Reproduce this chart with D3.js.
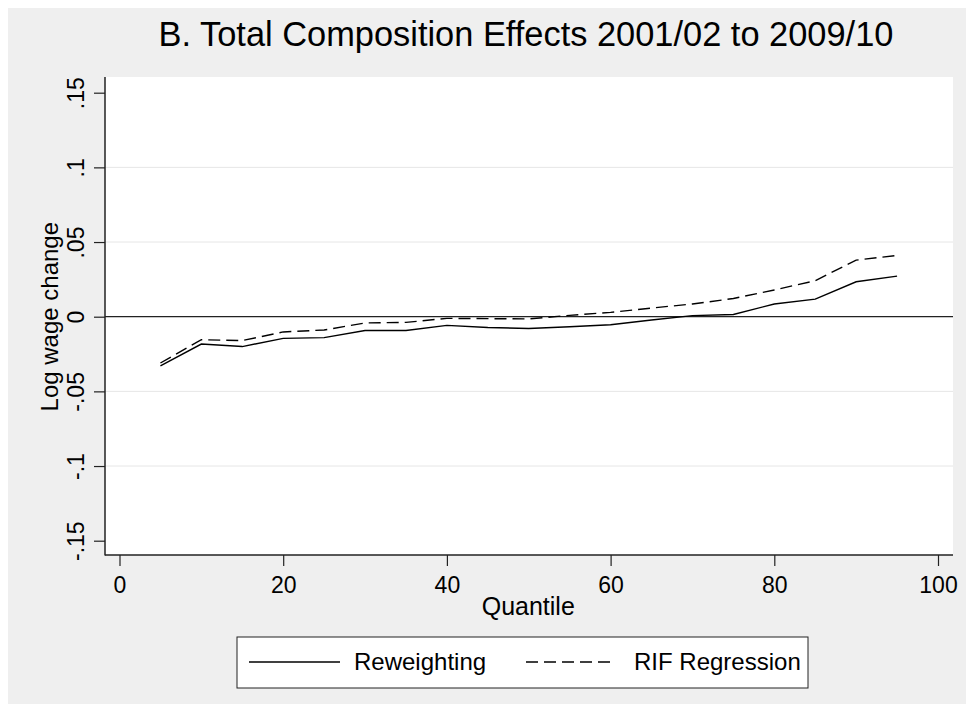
<!DOCTYPE html>
<html>
<head>
<meta charset="utf-8">
<script src="https://cdn.jsdelivr.net/npm/d3@7"></script>
<style>
  body { margin: 0; background: #fff; }
  text { font-family: "Liberation Sans", Arial, sans-serif; fill: #000; }
</style>
</head>
<body>
<div id="chart"></div>
<script>
const w = 968, h = 706

// data
const quantiles = [5, 10, 15, 20, 25, 30, 35, 40, 45, 50, 55, 60, 65, 70, 75, 80, 85, 90, 95]
const reweighting = [-0.033, -0.0183, -0.020, -0.0145, -0.014, -0.0092, -0.0092, -0.0058, -0.0072, -0.0079,
    -0.0067, -0.0054, -0.0022, 0.0007, 0.0015, 0.0085, 0.0118, 0.0234, 0.0272]
const rifRegression = [-0.031, -0.0154, -0.016, -0.0102, -0.0089, -0.0042, -0.0038, -0.0011, -0.0013, -0.0015,
    0.0009, 0.0029, 0.0058, 0.0085, 0.0122, 0.0179, 0.0241, 0.0379, 0.041]
const xTicks = [0, 20, 40, 60, 80, 100]
const yTicks = [-0.15, -0.1, -0.05, 0, 0.05, 0.1, 0.15]
const yTickLabels = ["-.15", "-.1", "-.05", "0", ".05", ".1", ".15"]
const gridTicks = [-0.1, -0.05, 0.05, 0.1]

// plot region
const plotL = 105, plotR = 953, plotT = 77, plotB = 555

//scales
const x = d3.scaleLinear()
    .domain([0, 100])
    .range([119.5, 938])

const y = d3.scaleLinear()
    .domain([-0.15, 0.15])
    .range([540.7, 92.7])

const svg = d3.select("#chart").append("svg")
    .attr("width", w)
    .attr("height", h)

svg.append("rect")
    .attr("x", 8).attr("y", 8)
    .attr("width", w - 10).attr("height", h - 10)
    .attr("fill", "#efefef")

svg.append("rect")
    .attr("x", plotL).attr("y", plotT)
    .attr("width", plotR - plotL).attr("height", plotB - plotT)
    .attr("fill", "white")

// grid
svg.selectAll("line.grid")
    .data(gridTicks)
    .enter()
    .append("line")
    .attr("class", "grid")
    .attr("x1", plotL).attr("x2", plotR)
    .attr("y1", d => y(d)).attr("y2", d => y(d))
    .attr("stroke", "#e6e6e6")
    .attr("stroke-width", 1)

// zero line
svg.append("line")
    .attr("x1", plotL).attr("x2", plotR)
    .attr("y1", y(0)).attr("y2", y(0))
    .attr("stroke", "#222")
    .attr("stroke-width", 1.2)

// axes
const yAxis = d3.axisLeft(y)
    .tickValues(yTicks)
    .tickSize(11)
    .tickFormat((d, i) => yTickLabels[i])

const gy = svg.append("g")
    .attr("transform", "translate(" + plotL + ",0)")
    .call(yAxis)
gy.select(".domain").remove()
gy.selectAll(".tick line").attr("stroke", "#222").attr("stroke-width", 1.2)
gy.selectAll(".tick text")
    .attr("x", null).attr("dy", null)
    .attr("text-anchor", "middle")
    .attr("transform", "translate(-21,0) rotate(-90)")
    .attr("font-size", 23)
    .attr("font-family", "Liberation Sans, Arial, sans-serif")
    .attr("fill", "#000")

const xAxis = d3.axisBottom(x)
    .tickValues(xTicks)
    .tickSize(11)

const gx = svg.append("g")
    .attr("transform", "translate(0," + plotB + ")")
    .call(xAxis)
gx.select(".domain").remove()
gx.selectAll(".tick line").attr("stroke", "#222").attr("stroke-width", 1.2)
gx.selectAll(".tick text")
    .attr("y", 38).attr("dy", null)
    .attr("font-size", 23)
    .attr("font-family", "Liberation Sans, Arial, sans-serif")
    .attr("fill", "#000")

// axis lines
svg.append("line")
    .attr("x1", plotL).attr("x2", plotL)
    .attr("y1", plotT).attr("y2", plotB + 0.5)
    .attr("stroke", "#222").attr("stroke-width", 1.5)
svg.append("line")
    .attr("x1", plotL).attr("x2", plotR)
    .attr("y1", plotB).attr("y2", plotB)
    .attr("stroke", "#222").attr("stroke-width", 1.5)

// series
const line = d3.line()
    .x(d => x(d[0]))
    .y(d => y(d[1]))

svg.append("path")
    .datum(d3.zip(quantiles, reweighting))
    .attr("d", line)
    .attr("fill", "none")
    .attr("stroke", "#000")
    .attr("stroke-width", 1.4)

svg.append("path")
    .datum(d3.zip(quantiles, rifRegression))
    .attr("d", line)
    .attr("fill", "none")
    .attr("stroke", "#000")
    .attr("stroke-width", 1.4)
    .attr("stroke-dasharray", "12,6")

// titles
svg.append("text")
    .attr("x", 526).attr("y", 46)
    .attr("text-anchor", "middle")
    .attr("font-size", 34.4)
    .text("B. Total Composition Effects 2001/02 to 2009/10")

svg.append("text")
    .attr("x", x(50) - 0.5).attr("y", 615)
    .attr("text-anchor", "middle")
    .attr("font-size", 25)
    .text("Quantile")

svg.append("text")
    .attr("transform", "translate(58," + y(0) + ") rotate(-90)")
    .attr("text-anchor", "middle")
    .attr("font-size", 24)
    .text("Log wage change")

// legend
const legend = svg.append("g").attr("class", "legend")
legend.append("rect")
    .attr("x", 237).attr("y", 637)
    .attr("width", 571).attr("height", 51)
    .attr("fill", "white")
    .attr("stroke", "#222")
    .attr("stroke-width", 1)

legend.append("line")
    .attr("x1", 249).attr("x2", 340)
    .attr("y1", 662).attr("y2", 662)
    .attr("stroke", "#000").attr("stroke-width", 1.4)
legend.append("text")
    .attr("x", 354).attr("y", 670)
    .attr("font-size", 24)
    .text("Reweighting")

legend.append("line")
    .attr("x1", 526).attr("x2", 614)
    .attr("y1", 662).attr("y2", 662)
    .attr("stroke", "#000").attr("stroke-width", 1.4)
    .attr("stroke-dasharray", "12,6")
legend.append("text")
    .attr("x", 634).attr("y", 670)
    .attr("font-size", 24)
    .text("RIF Regression")
</script>
</body>
</html>
